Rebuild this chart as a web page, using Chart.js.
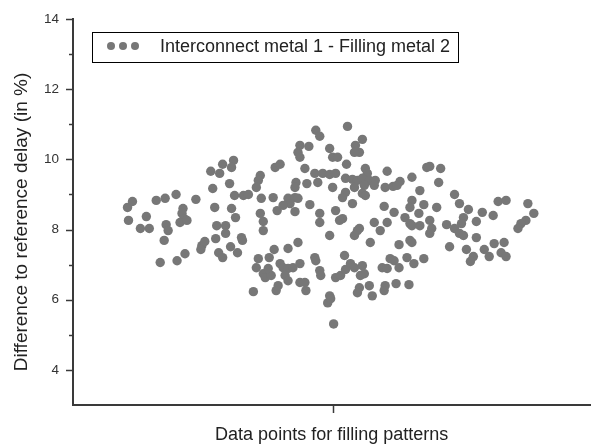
<!DOCTYPE html>
<html>
<head>
<meta charset="utf-8">
<script src="https://cdn.jsdelivr.net/npm/chart.js@4/dist/chart.umd.min.js"></script>
<style>
  body { margin: 0; background: #fff; overflow: hidden; }
  canvas { display: block; }
</style>
</head>
<body>
<canvas id="scatterChart" width="595" height="447"></canvas>
<script>
// Données
const seriesLabel = 'Interconnect metal 1 - Filling metal 2';
const yTitle = 'Difference to reference delay (in %)';
const xTitle = 'Data points for filling patterns';
const patternIndex = [
  55, 60, 56, 68, 77, 74, 84, 93, 104, 94, 96, 92, 88, 105, 113, 110, 112, 108, 115, 111,
  124, 130, 129, 133, 144, 139, 148, 151, 162, 160, 158, 141, 163, 172, 177, 143, 160, 164, 145, 154,
  154, 147, 151, 159, 166, 170, 171, 182, 185, 187, 245, 249, 277, 292, 285, 289, 284, 259, 262, 267,
  229, 227, 229, 238, 204, 209, 234, 244, 252, 259, 265, 276, 295, 297, 317, 342, 189, 187, 185, 225,
  224, 236, 247, 262, 275, 282, 287, 292, 299, 305, 284, 294, 304, 315, 323, 330, 327, 292, 295, 275,
  272, 190, 202, 217, 224, 227, 219, 212, 206, 239, 282, 314, 342, 340, 350, 189, 192, 224, 249, 249,
  265, 272, 269, 304, 317, 324, 335, 340, 349, 350, 354, 289, 192, 259, 287, 284, 300, 310, 340, 329,
  227, 217, 203, 198, 192, 194, 200, 197, 209, 212, 217, 222, 229, 214, 217, 207, 205, 229, 234, 235,
  244, 245, 249, 250, 259, 257, 260, 263, 265, 270, 274, 275, 280, 284, 292, 294, 290, 289, 287, 299,
  302, 312, 317, 320, 324, 329, 315, 314, 326, 339, 337, 344, 354, 357, 360, 371, 369, 385, 367, 390,
  399, 394, 392, 413, 424, 407, 429, 437, 459, 465, 457, 452, 449, 360, 342, 377, 385, 362, 360, 390,
  394, 407, 380, 397, 404, 401, 415, 420, 425, 435, 432, 437, 342
];
const delayDiff = [
  8.63, 8.80, 8.26, 8.03, 8.03, 8.37, 8.83, 8.89, 9.00, 8.14, 7.97, 7.69, 7.06, 7.11, 7.31, 8.46, 8.31, 8.20, 8.26, 8.60,
  8.86, 7.54, 7.43, 7.66, 7.74, 9.66, 9.60, 9.86, 9.97, 9.77, 9.31, 9.17, 8.97, 8.97, 9.00, 8.63, 8.60, 8.34, 8.11, 8.11,
  7.89, 7.34, 7.20, 7.51, 7.34, 7.77, 7.69, 6.23, 6.91, 7.17, 10.83, 10.66, 10.94, 10.57, 10.40, 10.20, 10.20, 10.31, 10.06, 10.06,
  10.40, 10.20, 10.06, 10.37, 9.77, 9.86, 9.74, 9.60, 9.60, 9.57, 9.60, 9.86, 9.74, 9.60, 9.66, 9.49, 9.54, 9.40, 9.20, 9.34,
  9.20, 9.31, 9.34, 9.20, 9.46, 9.43, 9.40, 9.46, 9.40, 9.40, 9.20, 9.26, 9.26, 9.20, 9.23, 9.37, 9.26, 9.03, 8.97, 9.06,
  8.91, 8.89, 8.91, 8.89, 8.91, 8.89, 8.74, 8.69, 8.54, 8.71, 8.74, 8.66, 8.83, 8.63, 9.11, 8.46, 8.23, 8.51, 8.46, 8.20,
  8.54, 8.31, 8.26, 8.20, 8.20, 8.49, 8.34, 8.17, 8.46, 8.11, 8.71, 8.03, 7.97, 7.83, 7.97, 7.83, 7.63, 7.97, 7.69, 7.57,
  7.63, 7.46, 7.43, 7.20, 6.74, 6.63, 6.69, 6.89, 7.03, 6.91, 6.89, 6.91, 7.03, 6.69, 6.54, 6.40, 6.26, 6.49, 6.49, 6.26,
  7.20, 7.11, 6.83, 6.69, 6.11, 5.91, 6.03, 5.31, 6.63, 6.69, 7.26, 6.86, 7.03, 6.91, 6.97, 6.74, 6.69, 6.34, 6.20, 6.40,
  6.11, 6.91, 6.89, 7.17, 7.11, 6.91, 6.40, 6.26, 6.46, 6.43, 7.20, 7.03, 7.17, 9.77, 9.80, 9.74, 9.34, 9.00, 8.63, 8.74,
  8.57, 8.34, 8.17, 8.49, 8.40, 8.23, 8.80, 8.83, 8.74, 8.46, 8.26, 8.17, 8.03, 8.26, 8.11, 8.14, 8.03, 8.03, 7.89, 7.89,
  7.83, 7.77, 7.51, 7.43, 7.23, 7.09, 7.43, 7.23, 7.60, 7.63, 7.34, 7.23, 7.63
];
const yTickLabels = [4, 6, 8, 10, 12, 14];
const xRange = [0, 522];
const xCenterTick = 263;
const yRange = [3, 14];

const pointColor = '#777777';
const axisColor = '#3a3a3a';
const fontFamily = 'Arial, "Liberation Sans", sans-serif';

const points = patternIndex.map((x, i) => ({ x: x, y: delayDiff[i] }));

// Graduations de l'axe Y (majeures et mineures) + titre vertical
const axisTicks = {
  id: 'axisTicks',
  afterDraw(chart) {
    const { ctx, scales: { y } } = chart;
    ctx.save();
    ctx.strokeStyle = axisColor;
    ctx.lineWidth = 1.5;
    y.ticks.forEach(t => {
      if (t.value <= yRange[0]) return;
      const py = Math.round(y.getPixelForValue(t.value)) + 0.5;
      const len = yTickLabels.includes(t.value) ? 7 : 4;
      ctx.beginPath();
      ctx.moveTo(y.right - len, py);
      ctx.lineTo(y.right, py);
      ctx.stroke();
    });
    // titre de l'axe Y, un peu plus bas que le centre de la zone
    ctx.translate(22, (y.top + y.bottom) / 2 + 10);
    ctx.rotate(-Math.PI / 2);
    ctx.fillStyle = '#222';
    ctx.font = '19px ' + fontFamily;
    ctx.textAlign = 'center';
    ctx.textBaseline = 'middle';
    ctx.fillText(yTitle, 0, 0);
    ctx.restore();
  }
};

// Légende encadrée dans la zone du graphique
const boxLegend = {
  id: 'boxLegend',
  afterDraw(chart) {
    const ctx = chart.ctx;
    const ds = chart.data.datasets[0];
    ctx.save();
    ctx.strokeStyle = '#000';
    ctx.lineWidth = 1;
    ctx.strokeRect(92.5, 32.5, 366, 30);
    ctx.fillStyle = ds.backgroundColor;
    [111, 123, 135].forEach(cx => {
      ctx.beginPath();
      ctx.arc(cx, 46, 4, 0, Math.PI * 2);
      ctx.fill();
    });
    ctx.fillStyle = '#222';
    ctx.font = '18px ' + fontFamily;
    ctx.textBaseline = 'middle';
    ctx.fillText(ds.label, 160, 47);
    ctx.restore();
  }
};

const ctx = document.getElementById('scatterChart').getContext('2d');
const scatterChart = new Chart(ctx, {
  type: 'scatter',
  data: {
    datasets: [{
      label: seriesLabel,
      data: points,
      backgroundColor: pointColor,
      borderWidth: 0,
      pointRadius: 4.7,
      pointHoverRadius: 4.7
    }]
  },
  options: {
    responsive: false,
    animation: false,
    layout: { padding: { top: 19, right: 0, left: 0, bottom: 0 } },
    plugins: {
      legend: { display: false },
      tooltip: { enabled: false }
    },
    scales: {
      x: {
        type: 'linear',
        min: xRange[0],
        max: xRange[1],
        afterBuildTicks: scale => { scale.ticks = [{ value: xCenterTick }]; },
        afterFit: scale => { scale.height = 42; },
        ticks: { display: false },
        grid: {
          display: true,
          drawOnChartArea: false,
          drawTicks: true,
          tickLength: 8,
          tickColor: axisColor,
          tickWidth: 1.5
        },
        border: { display: true, color: axisColor, width: 2 },
        title: {
          display: true,
          text: xTitle,
          color: '#222',
          font: { family: fontFamily, size: 18 },
          padding: { top: 0, bottom: 1 }
        }
      },
      y: {
        min: yRange[0],
        max: yRange[1],
        afterFit: scale => { scale.width = 73; },
        ticks: {
          stepSize: 1,
          autoSkip: false,
          padding: 7,
          color: '#333',
          font: { family: fontFamily, size: 13.5 },
          callback: v => yTickLabels.includes(v) ? v : ''
        },
        grid: {
          display: true,
          drawOnChartArea: false,
          drawTicks: true,
          tickLength: 7,
          tickColor: 'rgba(0,0,0,0)'
        },
        border: { display: true, color: axisColor, width: 2 }
      }
    }
  },
  plugins: [axisTicks, boxLegend]
});
</script>
</body>
</html>
